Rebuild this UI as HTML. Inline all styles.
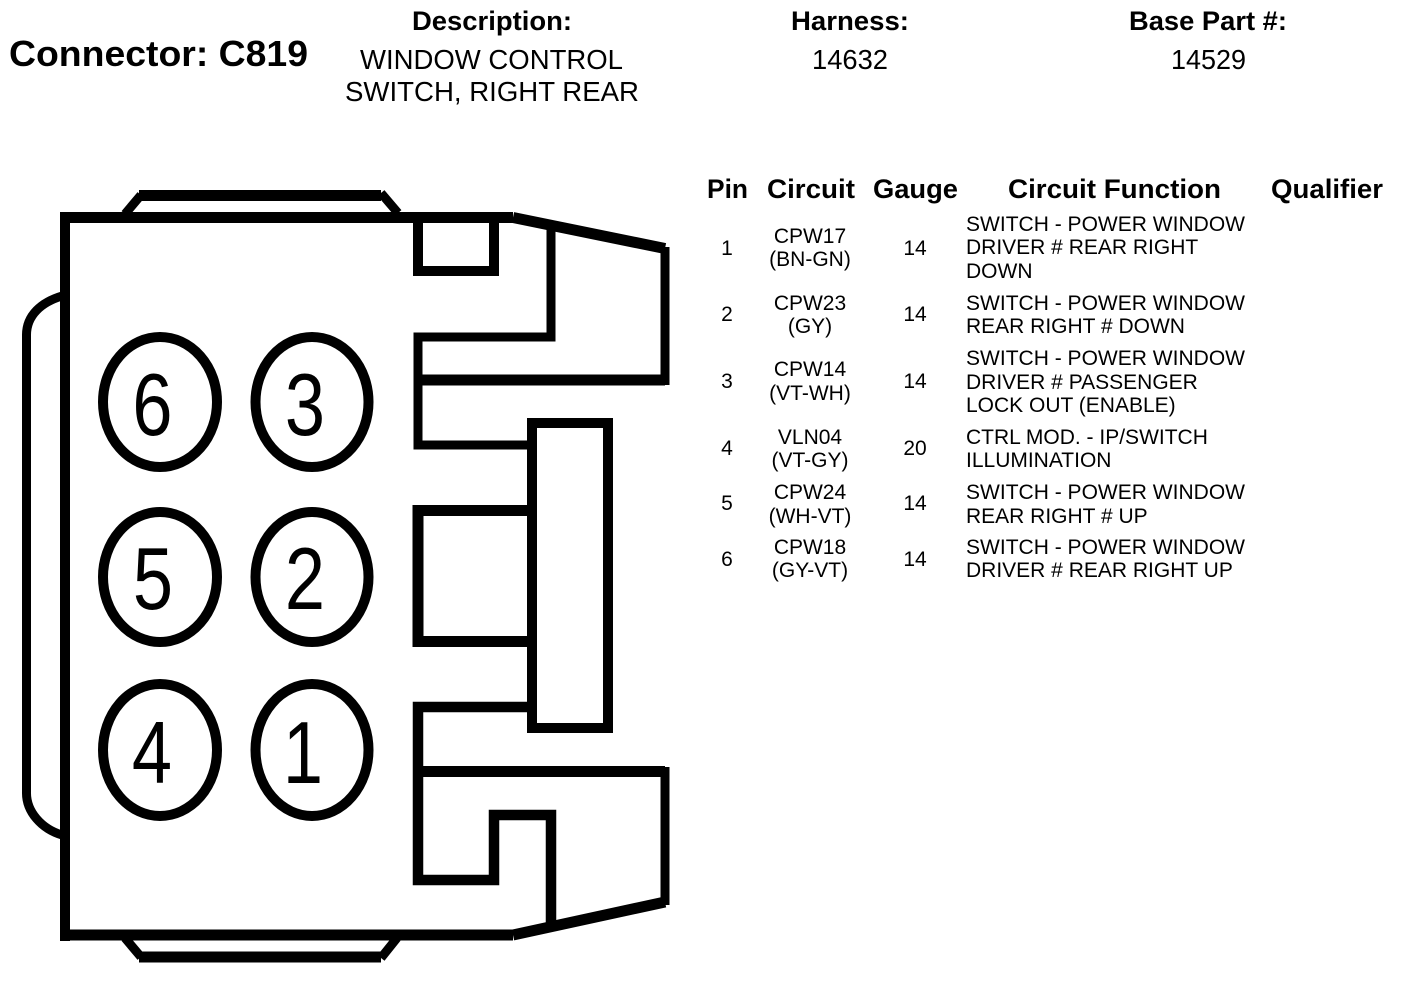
<!DOCTYPE html>
<html>
<head>
<meta charset="utf-8">
<style>
html,body{margin:0;padding:0;background:#fff;}
svg{display:block;}
text{font-family:"Liberation Sans",sans-serif;fill:#000;}
.h{font-weight:bold;font-size:27px;}
.v{font-size:27.5px;}
.s{font-size:21px;}
.d{font-size:88px;text-anchor:middle;}
.c{text-anchor:middle;}
path,ellipse{fill:none;stroke:#000;}
</style>
</head>
<body>
<svg width="1408" height="982" viewBox="0 0 1408 982" xmlns="http://www.w3.org/2000/svg">
<rect width="1408" height="982" fill="#fff"/>

<!-- connector outline -->
<path stroke-width="11" d="M65 217.500H513"/>
<path stroke-width="11" d="M65 935H513"/>
<path stroke-width="10" d="M65 212V941"/>
<path stroke-width="11" d="M513 217.500L665 248.500"/>
<path stroke-width="11" d="M513 935L665 902"/>
<path stroke-width="9" d="M665 247V385"/>
<path stroke-width="9" d="M665 767V905"/>

<!-- top and bottom tabs -->
<path stroke-width="9" d="M125 214L141 195"/>
<path stroke-width="11" d="M139 195.500H381"/>
<path stroke-width="9" d="M381 193L398 213"/>
<path stroke-width="9" d="M125 938L141 957"/>
<path stroke-width="11" d="M139 957H381"/>
<path stroke-width="9" d="M381 958L397 938"/>

<!-- left bump -->
<path stroke-width="9" d="M62 296C42 302 26 315 26.500 336V792C26 812 42 829 62 835"/>

<!-- top notches -->
<path stroke-width="10" d="M418 218V271H494V218"/>
<path stroke-width="9" d="M551 226V337H418V445H532"/>
<path stroke-width="11" d="M418 380H665"/>

<!-- centre block -->
<path stroke-width="11" d="M532 510.500H418V641.500H532"/>
<rect x="532" y="423" width="76" height="305" fill="none" stroke="#000" stroke-width="10"/>

<!-- bottom notches -->
<path stroke-width="10.500" d="M532 707H418V880H494V815H551V926"/>
<path stroke-width="11" d="M418 771.500H665"/>

<!-- cavities -->
<ellipse cx="160" cy="402" rx="57" ry="65" stroke-width="10"/>
<ellipse cx="312" cy="402" rx="56.500" ry="65" stroke-width="10"/>
<ellipse cx="160" cy="577" rx="57" ry="65" stroke-width="10"/>
<ellipse cx="312" cy="577" rx="56.500" ry="65" stroke-width="10"/>
<ellipse cx="160" cy="750" rx="57" ry="66" stroke-width="10"/>
<ellipse cx="312" cy="750" rx="56.500" ry="66" stroke-width="10"/>
<text class="d" transform="translate(152.500 435) scale(.82 1)">6</text>
<text class="d" transform="translate(305 435) scale(.82 1)">3</text>
<text class="d" transform="translate(153 609) scale(.82 1)">5</text>
<text class="d" transform="translate(305 609) scale(.82 1)">2</text>
<text class="d" transform="translate(152 783) scale(.82 1)">4</text>
<text class="d" transform="translate(303 783) scale(.82 1)">1</text>

<!-- header -->
<text x="9" y="66" font-weight="bold" font-size="36" textLength="299" lengthAdjust="spacingAndGlyphs">Connector: C819</text>
<text class="h" x="412" y="30" textLength="160" lengthAdjust="spacingAndGlyphs">Description:</text>
<text class="v" x="360" y="69" textLength="263" lengthAdjust="spacingAndGlyphs">WINDOW CONTROL</text>
<text class="v" x="345" y="101" textLength="294" lengthAdjust="spacingAndGlyphs">SWITCH, RIGHT REAR</text>
<text class="h" x="791" y="30" textLength="118" lengthAdjust="spacingAndGlyphs">Harness:</text>
<text class="v" x="812" y="69" textLength="76" lengthAdjust="spacingAndGlyphs">14632</text>
<text class="h" x="1129" y="30" textLength="158" lengthAdjust="spacingAndGlyphs">Base Part #:</text>
<text class="v" x="1171" y="69" textLength="75" lengthAdjust="spacingAndGlyphs">14529</text>

<!-- table header -->
<text class="h" x="707" y="198" textLength="41" lengthAdjust="spacingAndGlyphs">Pin</text>
<text class="h" x="767" y="198" textLength="88" lengthAdjust="spacingAndGlyphs">Circuit</text>
<text class="h" x="873" y="198" textLength="85" lengthAdjust="spacingAndGlyphs">Gauge</text>
<text class="h" x="1008" y="198" textLength="213" lengthAdjust="spacingAndGlyphs">Circuit Function</text>
<text class="h" x="1271" y="198" textLength="112" lengthAdjust="spacingAndGlyphs">Qualifier</text>

<g transform="translate(0 -1)">
<!-- row 1 -->
<text class="s c" x="727" y="256">1</text>
<text class="s c" x="810" y="244">CPW17</text>
<text class="s c" x="810" y="267">(BN-GN)</text>
<text class="s c" x="915" y="256">14</text>
<text class="s" x="966" y="232" textLength="279" lengthAdjust="spacingAndGlyphs">SWITCH - POWER WINDOW</text>
<text class="s" x="966" y="255">DRIVER # REAR RIGHT</text>
<text class="s" x="966" y="279">DOWN</text>

<!-- row 2 -->
<text class="s c" x="727" y="322">2</text>
<text class="s c" x="810" y="311">CPW23</text>
<text class="s c" x="810" y="334">(GY)</text>
<text class="s c" x="915" y="322">14</text>
<text class="s" x="966" y="311" textLength="279" lengthAdjust="spacingAndGlyphs">SWITCH - POWER WINDOW</text>
<text class="s" x="966" y="334">REAR RIGHT # DOWN</text>

<!-- row 3 -->
<text class="s c" x="727" y="389">3</text>
<text class="s c" x="810" y="377">CPW14</text>
<text class="s c" x="810" y="401">(VT-WH)</text>
<text class="s c" x="915" y="389">14</text>
<text class="s" x="966" y="366" textLength="279" lengthAdjust="spacingAndGlyphs">SWITCH - POWER WINDOW</text>
<text class="s" x="966" y="390">DRIVER # PASSENGER</text>
<text class="s" x="966" y="413">LOCK OUT (ENABLE)</text>

<!-- row 4 -->
<text class="s c" x="727" y="456">4</text>
<text class="s c" x="810" y="445">VLN04</text>
<text class="s c" x="810" y="468">(VT-GY)</text>
<text class="s c" x="915" y="456">20</text>
<text class="s" x="966" y="445">CTRL MOD. - IP/SWITCH</text>
<text class="s" x="966" y="468">ILLUMINATION</text>

<!-- row 5 -->
<text class="s c" x="727" y="511">5</text>
<text class="s c" x="810" y="500">CPW24</text>
<text class="s c" x="810" y="524">(WH-VT)</text>
<text class="s c" x="915" y="511">14</text>
<text class="s" x="966" y="500" textLength="279" lengthAdjust="spacingAndGlyphs">SWITCH - POWER WINDOW</text>
<text class="s" x="966" y="524">REAR RIGHT # UP</text>

<!-- row 6 -->
<text class="s c" x="727" y="567">6</text>
<text class="s c" x="810" y="555">CPW18</text>
<text class="s c" x="810" y="578">(GY-VT)</text>
<text class="s c" x="915" y="567">14</text>
<text class="s" x="966" y="555" textLength="279" lengthAdjust="spacingAndGlyphs">SWITCH - POWER WINDOW</text>
<text class="s" x="966" y="578">DRIVER # REAR RIGHT UP</text>
</g>
</svg>
</body>
</html>
